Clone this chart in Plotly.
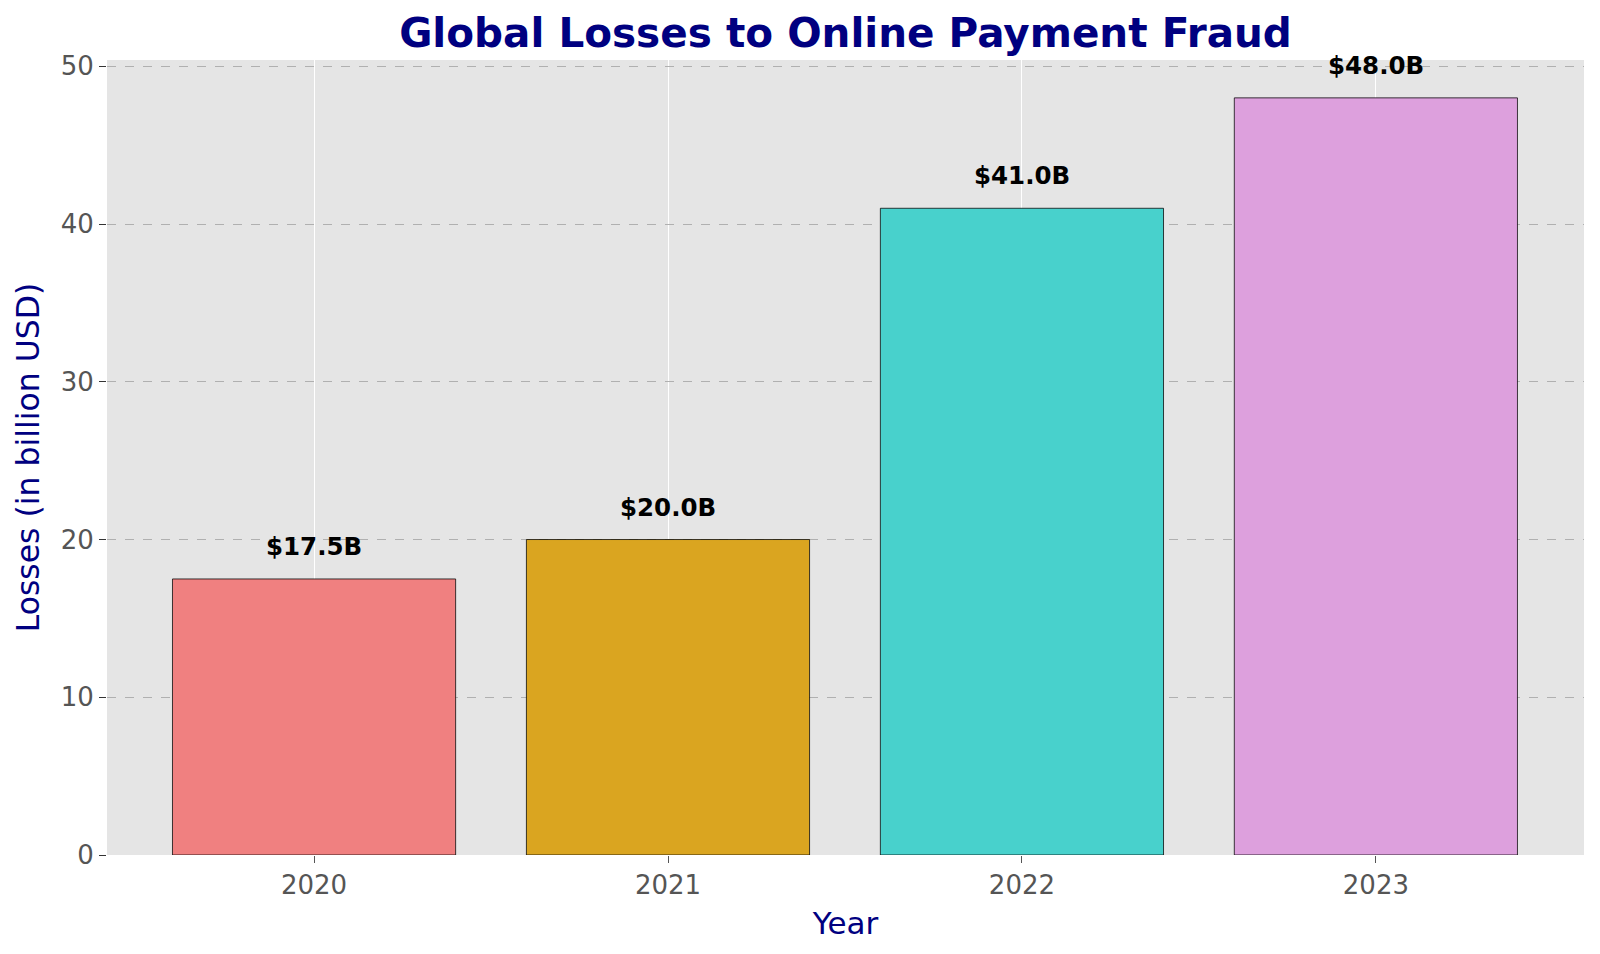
import plotly.graph_objects as go

# data
years = ["2020", "2021", "2022", "2023"]
losses = [17.5, 20.0, 41.0, 48.0]
bar_colors = ["#F08080", "#DAA520", "#48D1CC", "#DDA0DD"]
value_labels = ["$17.5B", "$20.0B", "$41.0B", "$48.0B"]

FONT = "DejaVu Sans"
NAVY = "#000080"
PAGE_PAD = 8  # browser body margin offsets the figure

fig = go.Figure()

fig.add_trace(go.Bar(
    x=years,
    y=losses,
    width=0.8,
    marker=dict(color=bar_colors, line=dict(color="rgba(0,0,0,0.75)", width=1)),
    showlegend=False,
))

# value labels above each bar (category index on the x axis)
for i, (val, txt) in enumerate(zip(losses, value_labels)):
    fig.add_annotation(
        x=i, y=val, xref="x", yref="y", text="<b>%s</b>" % txt,
        showarrow=False, yanchor="bottom", yshift=16,
        font=dict(family=FONT, size=24.5, color="black"),
    )

fig.update_layout(
    width=1600,
    height=954,
    margin=dict(l=107 - PAGE_PAD, r=16 + PAGE_PAD, t=60 - PAGE_PAD, b=99 + PAGE_PAD),
    paper_bgcolor="white",
    plot_bgcolor="#E5E5E5",
    font=dict(family=FONT),
    title=dict(
        text="<b>Global Losses to Online Payment Fraud</b>",
        x=(107 + 1584) / 2 / 1600 - PAGE_PAD / 1600, xanchor="center",
        y=1 - (33 - PAGE_PAD) / 954, yanchor="middle", yref="container",
        font=dict(family=FONT, size=40.5, color=NAVY),
    ),
    bargap=0.2,
)

fig.update_xaxes(
    type="category",
    range=[-0.585, 3.588],
    showgrid=True, gridcolor="white", gridwidth=1,
    ticks="outside", ticklen=7, tickcolor="#555555",
    tickfont=dict(family=FONT, size=26, color="#555555"),
    title=dict(text="Year", standoff=13, font=dict(family=FONT, size=31, color=NAVY)),
    showline=False, zeroline=False,
)

fig.update_yaxes(
    range=[0, 50.4],
    tickvals=[0, 10, 20, 30, 40, 50],
    showgrid=True, gridcolor="#B0B0B0", gridwidth=1, griddash="dash",
    ticks="outside", ticklen=7, tickcolor="#333333",
    tickfont=dict(family=FONT, size=26, color="#555555"),
    title=dict(text="Losses (in billion USD)", standoff=11,
               font=dict(family=FONT, size=31.5, color=NAVY)),
    showline=False, zeroline=False,
)

fig.write_html("out.html")
